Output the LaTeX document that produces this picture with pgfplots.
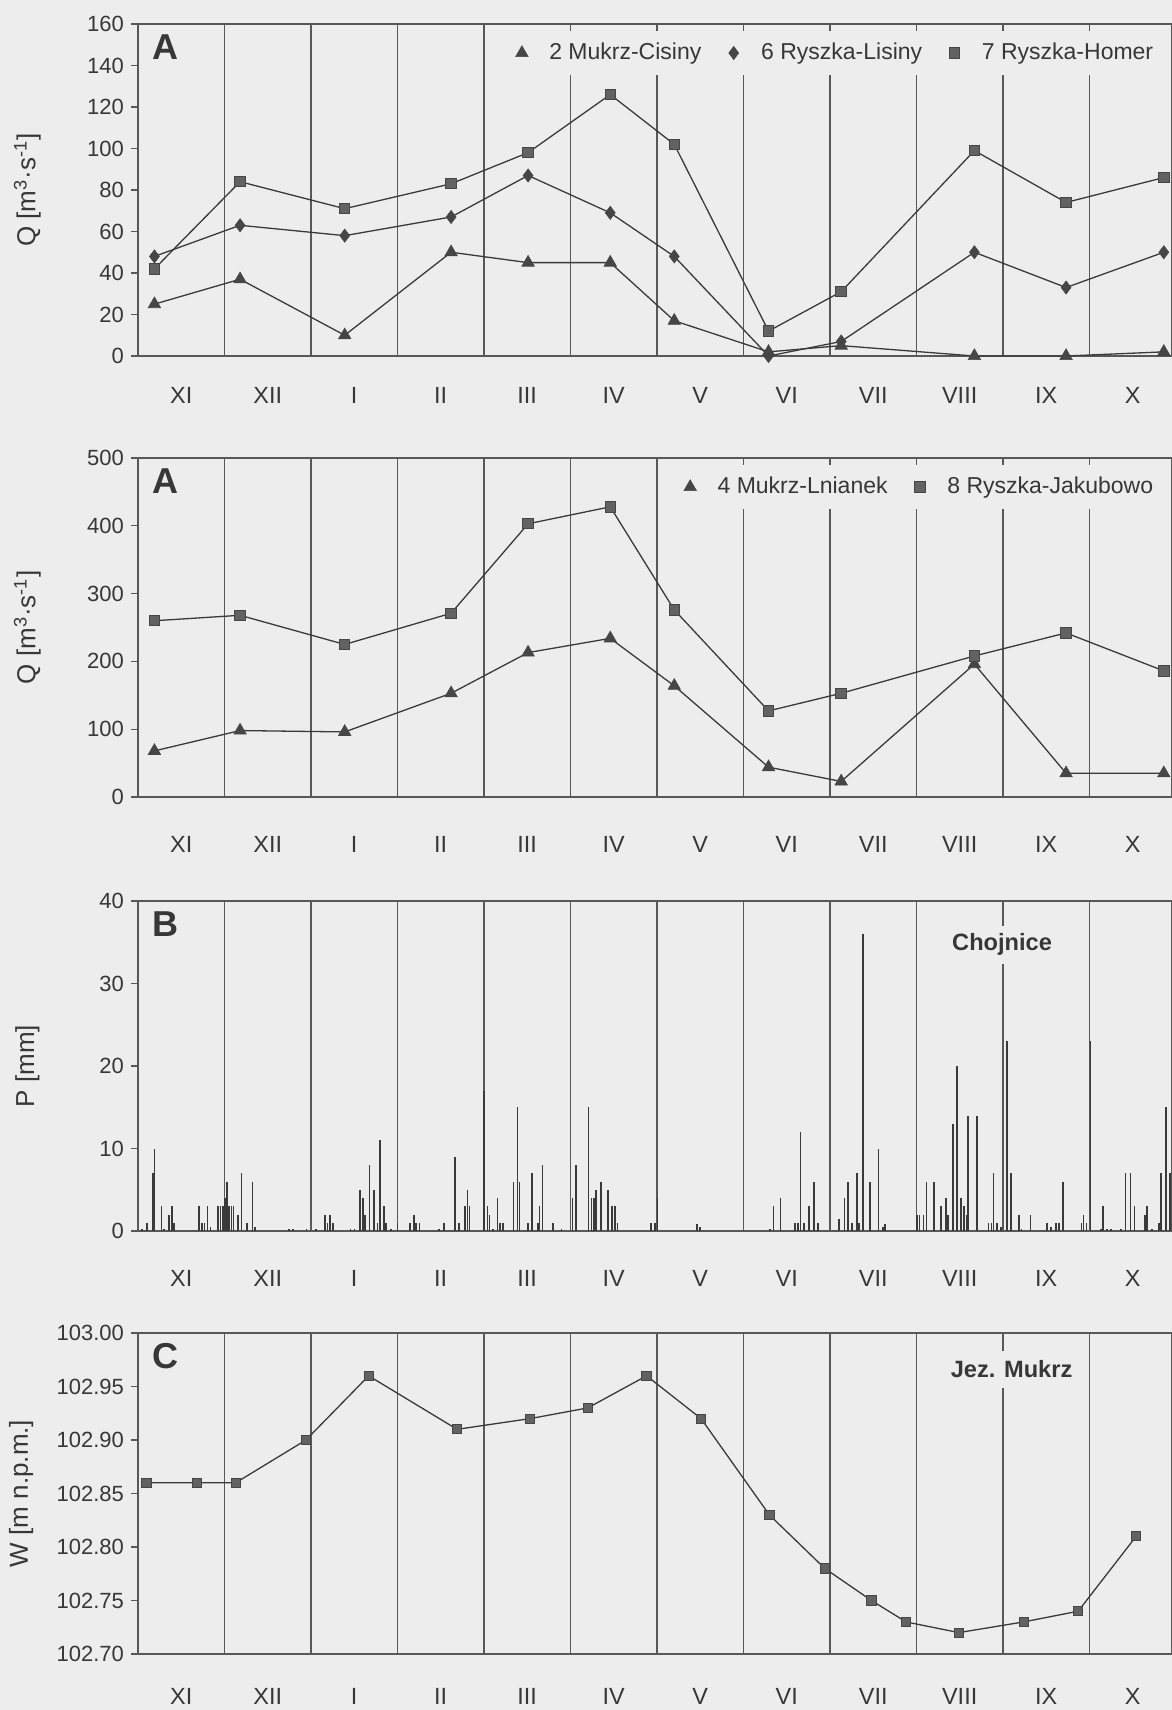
\documentclass[border=0pt]{standalone}
\usepackage{fontspec}
\setmainfont{Liberation Sans}
\usepackage{pgfplots}
\usepackage{pgfplotstable}
\pgfplotsset{compat=1.18}
\definecolor{bgcol}{RGB}{237,237,237}
\definecolor{linecol}{RGB}{58,58,58}
\definecolor{gridcol}{RGB}{88,88,88}
\definecolor{textcol}{RGB}{55,55,55}
\definecolor{markcol}{RGB}{70,70,70}

% Panel 1: Q at gauges 2, 6, 7
\pgfplotstableread{
u     tri  dia  sq
0.19  25   48   42
1.18  37   63   84
2.39  10   58   71
3.62  50   67   83
4.51  45   87   98
5.46  45   69   126
6.20  17   48   102
7.29  2    0    12
8.13  5    7    31
9.67  0    50   99
10.73 0    33   74
11.86 2    50   86
}\panelone

% Panel 2: Q at gauges 4, 8
\pgfplotstableread{
u     tri  sq
0.19  68   260
1.18  98   268
2.39  96   225
3.62  153  271
4.51  213  403
5.46  234  428
6.20  164  276
7.29  44   127
8.13  23   153
9.67  196  208
10.73 35   242
11.86 35   186
}\paneltwo

% Panel 3: daily precipitation, Chojnice
\pgfplotstableread{
u      P
0.046  0.3
0.103  1
0.170  7
0.192  10
0.272  3
0.303  0.3
0.356  2
0.392  3
0.414  1
0.703  3
0.738  1
0.769  1
0.805  3
0.836  0.5
0.925  3
0.956  3
0.982  3
1.004  4
1.027  6
1.049  3
1.080  3
1.102  3
1.155  2
1.195  7
1.257  1
1.324  6
1.355  0.5
1.746  0.2
1.790  0.2
1.946  0.2
2.057  0.3
2.159  2
2.190  1
2.221  2
2.256  1
2.456  0.2
2.501  0.2
2.567  5
2.603  4
2.625  2
2.678  8
2.731  5
2.767  1
2.798  11
2.842  3
2.869  1
2.922  0.3
3.002  1
3.144  1
3.189  2
3.211  1
3.255  1
3.477  0.3
3.535  1
3.664  9
3.708  1
3.779  3
3.810  5
3.832  3
4.001  17
4.041  3
4.063  2
4.103  0.3
4.157  4
4.188  1
4.219  1
4.343  6
4.387  15
4.410  6
4.507  1
4.552  7
4.623  1
4.640  3
4.676  8
4.796  1
4.898  0.3
5.022  4
5.067  8
5.209  15
5.244  4
5.275  4
5.298  5
5.351  6
5.435  5
5.481  3
5.517  3
5.544  1
5.934  1
5.980  1
6.007  4
6.465  0.8
6.501  0.5
7.304  0.2
7.349  3
7.426  4
7.599  1
7.630  1
7.658  12
7.698  1
7.757  3
7.816  6
7.862  1
8.107  1.5
8.166  4
8.211  6
8.256  1
8.311  7
8.333  1
8.383  36
8.460  6
8.560  10
8.610  0.5
8.633  0.8
9.005  2
9.036  2
9.082  2
9.118  6
9.200  6
9.286  3
9.345  4
9.367  2
9.426  13
9.472  20
9.517  4
9.549  3
9.580  2
9.594  14
9.698  14
9.834  1
9.866  1
9.889  7
9.934  1
9.980  0.5
10.048 23
10.093 7
10.184 2
10.215 0.3
10.320 2
10.510 1
10.556 0.5
10.615 1
10.651 1
10.696 6
10.909 1
10.932 2
10.968 1
11.014 23
11.136 0.3
11.159 3
11.204 0.3
11.249 0.3
11.363 0.2
11.417 7
11.476 7
11.522 3
11.644 2
11.667 3
11.726 0.3
11.803 1
11.830 7
11.884 15
11.930 7
}\panelthree

% Panel 4: water level, Jez. Mukrz
\pgfplotstableread{
u      W
0.098  102.86
0.684  102.86
1.129  102.86
1.942  102.90
2.667  102.96
3.689  102.91
4.533  102.92
5.200  102.93
5.880  102.96
6.510  102.92
7.300  102.83
7.940  102.78
8.480  102.75
8.880  102.73
9.490  102.72
10.240 102.73
10.870 102.74
11.540 102.81
}\panelfour

\pgfplotsset{
  panel/.style={
    scale only axis, width=516.8pt,
    xmin=0, xmax=11.95,
    axis background/.style={fill=bgcol},
    axis line style={draw=gridcol, line width=0.6pt},
    xtick={0.5,1.5,...,11.5},
    xticklabels={XI,XII,I,II,III,IV,V,VI,VII,VIII,IX,X},
    xtick style={draw=none},
    xticklabel style={font=\fontsize{11.7}{13}\selectfont, text=textcol, anchor=center, yshift=-20pt},
    extra x ticks={1,2,...,11},
    extra x tick labels={},
    extra x tick style={grid=major, tick style={draw=none}},
    major grid style={draw=gridcol, line width=0.65pt},
    ytick pos=left, tick align=outside, major tick length=3.5pt,
    ytick style={draw=gridcol, line width=0.6pt},
    yticklabel style={font=\fontsize{11}{12}\selectfont, text=textcol},
    /pgf/number format/assume math mode=true,
    every axis y label/.style={at={(axis description cs:-0.107,0.5)}, rotate=90, anchor=center, font=\fontsize{13}{15}\selectfont, text=textcol},
    legend style={draw=none, fill=bgcol, font=\fontsize{11.5}{13}\selectfont, text=textcol,
      legend columns=-1, at={(rel axis cs:1,1)}, anchor=east, xshift=-4pt, yshift=-14.5pt,
      inner xsep=3pt, inner ysep=4pt,
      /tikz/every even column/.append style={column sep=11pt}},
    legend image code/.code={\path (0cm,0cm) (0.5cm,0cm); \draw[##1] plot[only marks] coordinates {(0.1cm,0cm)};},
  },
  lser/.style={draw=linecol, line width=0.65pt},
  mtri/.style={lser, mark=triangle*, mark size=3.6pt, mark options={fill=markcol, draw=markcol, solid, line width=0.3pt}},
  mdia/.style={lser, mark=diamond*, mark size=3.3pt, mark options={fill=markcol, draw=markcol, solid, line width=0.3pt}},
  msq/.style={lser, mark=square*, mark size=2.6pt, mark options={fill=markcol!85!white, draw=markcol, solid, line width=0.5pt}},
}

\begin{document}
\begin{tikzpicture}
\useasboundingbox (0,0) rectangle (586pt,-855pt);
\fill[bgcol] (0,0) rectangle (586pt,-855pt);

% ---------- Panel A (upper) ----------
\begin{axis}[panel, at={(69pt,-12pt)}, anchor=north west, height=166pt,
  ymin=0, ymax=160, ytick={0,20,...,160},
  xticklabel style={yshift=4pt},
  ylabel={Q [m\textsuperscript{3}·s\textsuperscript{-1}]}]
\addplot[mtri] table[x=u,y=tri] {\panelone};
\addlegendentry{2 Mukrz-Cisiny}
\addplot[mdia] table[x=u,y=dia] {\panelone};
\addlegendentry{6 Ryszka-Lisiny}
\addplot[msq] table[x=u,y=sq] {\panelone};
\addlegendentry{7 Ryszka-Homer}
\node[anchor=north west, inner sep=0, xshift=7pt, yshift=-5pt, font=\bfseries\fontsize{18}{20}\selectfont, text=textcol] at (rel axis cs:0,1) {A};
\end{axis}

% ---------- Panel A (lower) ----------
\begin{axis}[panel, at={(69pt,-229pt)}, anchor=north west, height=169.5pt,
  ymin=0, ymax=500, ytick={0,100,...,500},
  ylabel={Q [m\textsuperscript{3}·s\textsuperscript{-1}]}]
\addplot[mtri] table[x=u,y=tri] {\paneltwo};
\addlegendentry{4 Mukrz-Lnianek}
\addplot[msq] table[x=u,y=sq] {\paneltwo};
\addlegendentry{8 Ryszka-Jakubowo}
\node[anchor=north west, inner sep=0, xshift=7pt, yshift=-5pt, font=\bfseries\fontsize{18}{20}\selectfont, text=textcol] at (rel axis cs:0,1) {A};
\end{axis}

% ---------- Panel B ----------
\begin{axis}[panel, at={(69pt,-450.5pt)}, anchor=north west, height=165pt,
  ymin=0, ymax=40, ytick={0,10,...,40},
  ylabel={P [mm]}]
\addplot[ycomb, draw=linecol, line width=0.8pt] table[x=u,y=P] {\panelthree};
\node[fill=bgcol, inner sep=4pt, font=\bfseries\fontsize{11.8}{13}\selectfont, text=textcol] at (axis cs:9.99,34.7) {Chojnice};
\node[anchor=north west, inner sep=0, xshift=7pt, yshift=-5pt, font=\bfseries\fontsize{18}{20}\selectfont, text=textcol] at (rel axis cs:0,1) {B};
\end{axis}

% ---------- Panel C ----------
\begin{axis}[panel, at={(69pt,-666.5pt)}, anchor=north west, height=160.5pt,
  ymin=102.70, ymax=103.00, ytick={102.70,102.75,...,103.01},
  yticklabel style={/pgf/number format/.cd, fixed, fixed zerofill, precision=2},
  xticklabel style={yshift=2.5pt},
  every axis y label/.append style={at={(axis description cs:-0.113,0.5)}},
  ylabel={W [m n.p.m.]}]
\addplot[lser, mark=square*, mark size=2.3pt, mark options={fill=markcol!85!white, draw=markcol, solid, line width=0.5pt}] table[x=u,y=W] {\panelfour};
\node[fill=bgcol, inner sep=5pt, font=\bfseries\fontsize{11.8}{13}\selectfont, text=textcol] at (axis cs:10.1,102.966) {Jez. Mukrz};
\node[anchor=north west, inner sep=0, xshift=7pt, yshift=-5pt, font=\bfseries\fontsize{18}{20}\selectfont, text=textcol] at (rel axis cs:0,1) {C};
\end{axis}
\end{tikzpicture}
\end{document}
